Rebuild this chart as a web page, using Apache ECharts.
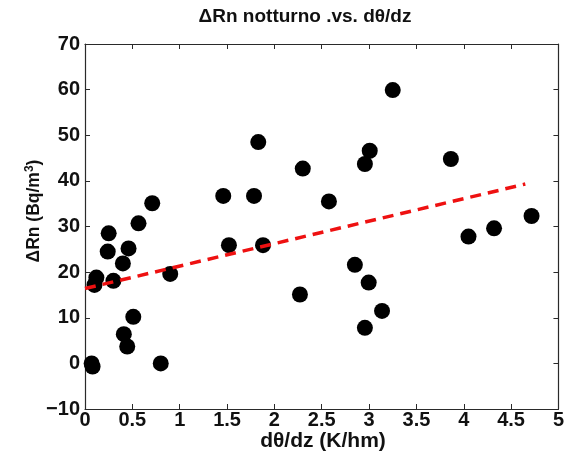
<!DOCTYPE html>
<html><head><meta charset="utf-8">
<script src="https://cdn.jsdelivr.net/npm/echarts@6/dist/echarts.min.js"></script>
<style>html,body{margin:0;padding:0;background:#fff}#c{width:567px;height:463px}</style>
</head><body><div id="c"></div>
<script>
const xTicks = [0,0.5,1,1.5,2,2.5,3,3.5,4,4.5,5];
const yTicks = [-10,0,10,20,30,40,50,60,70];
const dThetaDz = [0.07,0.08,0.10,0.12,0.25,0.24,0.30,0.40,0.46,0.565,0.71,0.41,0.446,0.51,0.80,0.90,1.46,1.52,1.785,1.83,1.88,2.30,2.27,2.576,3.25,3.007,2.956,3.864,4.716,4.32,4.05,2.85,2.996,3.137,2.956];
const deltaRn  = [0.0,-0.7,17.2,18.8,28.5,24.5,18.1,21.9,25.2,30.7,35.1,6.4,3.7,10.2,0.0,19.6,36.7,25.9,36.7,48.5,25.9,42.7,15.1,35.5,59.9,46.6,43.7,44.8,32.3,29.6,27.8,21.6,17.7,11.5,7.8];
const fitX = [0.0,4.65];
const fitY = [16.4,39.3];
const titleText = 'ΔRn notturno .vs. dθ/dz';
const xLabel = 'dθ/dz (K/hm)';

const chart = echarts.init(document.getElementById('c'));
const F = 'Liberation Sans, Arial, sans-serif';
const axisCommon = {
  axisLine:{show:true,onZero:false,lineStyle:{color:'#2a2a2a',width:1.2}},
  axisTick:{show:true,inside:true,length:5,lineStyle:{color:'#2a2a2a',width:1}},
  splitLine:{show:false}
};
chart.setOption({
  animation:false,
  backgroundColor:'#fff',
  grid:{left:85,right:7,top:44,bottom:54,containLabel:false},
  xAxis:[
    Object.assign({type:'value',min:0,max:5,interval:0.5,position:'bottom',
      axisLabel:{color:'#111',fontFamily:F,fontWeight:'bold',fontSize:20,margin:1,
        formatter:v=>String(v)}},axisCommon),
    Object.assign({type:'value',min:0,max:5,interval:0.5,position:'top',axisLabel:{show:false}},axisCommon)
  ],
  yAxis:[
    Object.assign({type:'value',min:-10,max:70,interval:10,position:'left',
      axisLabel:{color:'#111',fontFamily:F,fontWeight:'bold',fontSize:20,margin:5,
        formatter:v=>v<0?'\u2212'+Math.abs(v):String(v)}},axisCommon),
    Object.assign({type:'value',min:-10,max:70,interval:10,position:'right',axisLabel:{show:false}},axisCommon)
  ],
  graphic:[
    {type:'text',x:305,y:17,style:{text:titleText,font:'bold 19px '+F,fill:'#111',align:'center',verticalAlign:'middle'}},
    {type:'text',x:323,y:441,style:{text:xLabel,font:'bold 21px '+F,fill:'#111',align:'center',verticalAlign:'middle'}},
    {type:'text',x:34,y:211,rotation:Math.PI/2,
      style:{text:'ΔRn (Bq/m{sup|3})',font:'bold 17.5px '+F,fill:'#111',align:'center',verticalAlign:'middle',
        rich:{sup:{fontSize:12,fontWeight:'bold',fontFamily:F,fill:'#111',verticalAlign:'top',padding:[0,0,9,0]}}}}
  ],
  series:[
    {type:'scatter',data:dThetaDz.map((x,i)=>[x,deltaRn[i]]),symbol:'circle',symbolSize:16,
      itemStyle:{color:'#000',opacity:1},z:3},
    {type:'line',data:fitX.map((x,i)=>[x,fitY[i]]),symbol:'none',
      lineStyle:{color:'#ee1111',width:3.5,type:[11,7]},z:4}
  ]
});
</script></body></html>
